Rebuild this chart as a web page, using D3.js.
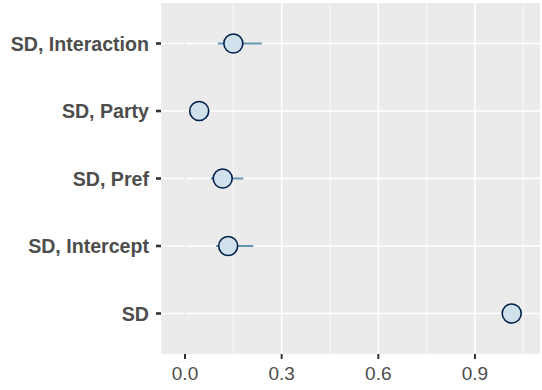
<!DOCTYPE html>
<html><head><meta charset="utf-8">
<script src="https://cdn.jsdelivr.net/npm/d3@7"></script>
<style>body{margin:0;background:#fff}svg{display:block}</style>
</head><body>
<script>
const params = ["SD", "SD, Intercept", "SD, Pref", "SD, Party", "SD, Interaction"];
const estimates = [1.014, 0.134, 0.117, 0.044, 0.150];
const lows = [1.0, 0.096, 0.08, 0.03, 0.102];
const highs = [1.03, 0.212, 0.181, 0.06, 0.238];
const xTicks = [0, 0.3, 0.6, 0.9];
const xMinor = [0.15, 0.45, 0.75, 1.05];

const W = 542, H = 390;
const P = {left: 161, right: 540, top: 3, bottom: 354};
const svg = d3.select("body").append("svg").attr("width", W).attr("height", H);

const x = d3.scaleLinear().domain([-0.0745, 1.1018]).range([P.left, P.right]);
const y = d3.scalePoint().domain(params).range([P.bottom, P.top]).padding(0.6);

svg.append("rect").attr("x", P.left).attr("y", P.top)
  .attr("width", P.right - P.left).attr("height", P.bottom - P.top).attr("fill", "#ebebeb");

const g = svg.append("g");
g.selectAll(".minor").data(xMinor).join("line")
  .attr("x1", d => x(d)).attr("x2", d => x(d)).attr("y1", P.top).attr("y2", P.bottom)
  .attr("stroke", "#fff").attr("stroke-width", 0.75);
g.selectAll(".majx").data(xTicks).join("line")
  .attr("x1", d => x(d)).attr("x2", d => x(d)).attr("y1", P.top).attr("y2", P.bottom)
  .attr("stroke", "#fff").attr("stroke-width", 1.5);
g.selectAll(".majy").data(params).join("line")
  .attr("x1", P.left).attr("x2", P.right).attr("y1", d => y(d)).attr("y2", d => y(d))
  .attr("stroke", "#fff").attr("stroke-width", 1.5);
// reference line at 0
g.append("line").attr("x1", x(0)).attr("x2", x(0)).attr("y1", P.top).attr("y2", P.bottom)
  .attr("stroke", "#e2e2e2").attr("stroke-width", 1.2);

// intervals
g.selectAll(".iv").data(params).join("line")
  .attr("x1", (d, i) => x(lows[i])).attr("x2", (d, i) => x(highs[i]))
  .attr("y1", d => y(d)).attr("y2", d => y(d))
  .attr("stroke", "#6497b1").attr("stroke-width", 2.2);
g.selectAll(".pt").data(params).join("circle")
  .attr("cx", (d, i) => x(estimates[i])).attr("cy", d => y(d)).attr("r", 9.5)
  .attr("fill", "#d1e1ec").attr("stroke", "#011f4b").attr("stroke-width", 1.6);

// y axis
const ya = svg.append("g");
ya.selectAll("line").data(params).join("line")
  .attr("x1", P.left - 5).attr("x2", P.left).attr("y1", d => y(d)).attr("y2", d => y(d))
  .attr("stroke", "#333").attr("stroke-width", 2.6);
ya.selectAll("text").data(params).join("text")
  .attr("x", P.left - 12).attr("y", d => y(d)).attr("dy", "0.36em")
  .attr("text-anchor", "end").attr("font-family", "Liberation Sans, Arial, sans-serif")
  .attr("font-weight", "bold").attr("font-size", 19.6).attr("fill", "#4d4d4d").text(d => d);

// x axis
const xa = svg.append("g");
xa.selectAll("line").data(xTicks).join("line")
  .attr("x1", d => x(d)).attr("x2", d => x(d)).attr("y1", P.bottom).attr("y2", P.bottom + 5)
  .attr("stroke", "#333").attr("stroke-width", 2);
xa.selectAll("text").data(xTicks).join("text")
  .attr("x", d => x(d)).attr("y", 380).attr("text-anchor", "middle")
  .attr("font-family", "Liberation Sans, Arial, sans-serif").attr("font-size", 19)
  .attr("fill", "#4d4d4d").text(d => d3.format(".1f")(d));
</script>
</body></html>
